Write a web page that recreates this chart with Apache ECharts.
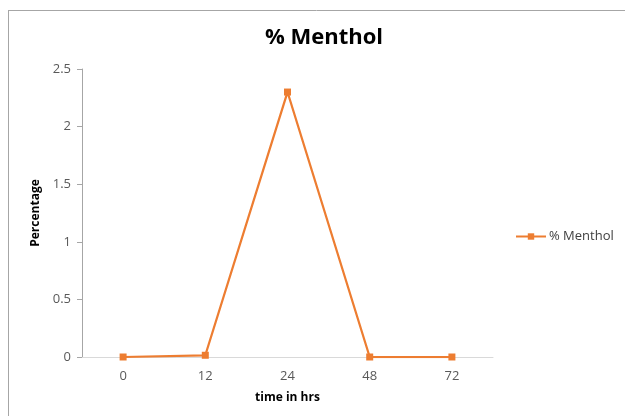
<!DOCTYPE html>
<html>
<head>
<meta charset="utf-8">
<script src="https://cdn.jsdelivr.net/npm/echarts@6/dist/echarts.min.js"></script>
<style>html,body{margin:0;padding:0;background:#fff;}#c{width:625px;height:416px;}</style>
</head>
<body>
<div id="c"></div>
<script>
const categories = ['0', '12', '24', '48', '72'];
const menthol = [0, 0.015, 2.3, 0, 0];
const yTicks = [0, 0.5, 1, 1.5, 2, 2.5];

const chart = echarts.init(document.getElementById('c'));
chart.setOption({
  animation: false,
  backgroundColor: '#fff',
  graphic: [
    { type: 'line', shape: { x1: 8, y1: 10.5, x2: 625, y2: 10.5 }, style: { stroke: '#a6a6a6', lineWidth: 1 } },
    { type: 'line', shape: { x1: 8.5, y1: 10, x2: 8.5, y2: 416 }, style: { stroke: '#a6a6a6', lineWidth: 1 } }
  ],
  title: {
    text: '% Menthol',
    left: 319, top: 22, textAlign: 'center',
    textStyle: { fontFamily: '"Open Sans", sans-serif', fontSize: 22, fontWeight: 'bold', color: '#000' }
  },
  legend: {
    data: ['% Menthol'],
    left: 515, top: 230, padding: 0,
    itemWidth: 30, itemHeight: 8, itemGap: 4,
    textStyle: { fontFamily: '"Open Sans", sans-serif', fontSize: 13, color: '#404040', padding: [0, 0, 0, -2] }
  },
  grid: { left: 82, top: 69, right: 132, bottom: 59 },
  xAxis: {
    type: 'category', data: categories, boundaryGap: true,
    name: 'time in hrs', nameLocation: 'middle', nameGap: 35,
    nameTextStyle: { fontFamily: '"Open Sans", sans-serif', fontSize: 12, fontWeight: 'bold', color: '#000' },
    axisLine: { lineStyle: { color: '#d9d9d9', width: 1 } },
    axisTick: { show: false },
    axisLabel: { fontFamily: '"Open Sans", sans-serif', fontSize: 13, color: '#595959', margin: 13 }
  },
  yAxis: {
    type: 'value', min: 0, max: 2.5, interval: 0.5,
    name: 'Percentage', nameLocation: 'middle', nameGap: 38, nameRotate: 90,
    nameTextStyle: { fontFamily: '"Open Sans", sans-serif', fontSize: 12, fontWeight: 'bold', color: '#000' },
    axisLine: { show: true, lineStyle: { color: '#a6a6a6', width: 1 } },
    axisTick: { show: true, inside: false, length: 5, lineStyle: { color: '#a6a6a6' } },
    splitLine: { show: false },
    axisLabel: { fontFamily: '"Open Sans", sans-serif', fontSize: 13, color: '#595959', margin: 11,
      formatter: v => yTicks.includes(v) ? String(v) : '' }
  },
  series: [{
    name: '% Menthol', type: 'line', data: menthol,
    symbol: 'rect', symbolSize: 7,
    lineStyle: { color: '#ED7D31', width: 2.25 },
    itemStyle: { color: '#ED7D31' }
  }]
});
</script>
</body>
</html>
